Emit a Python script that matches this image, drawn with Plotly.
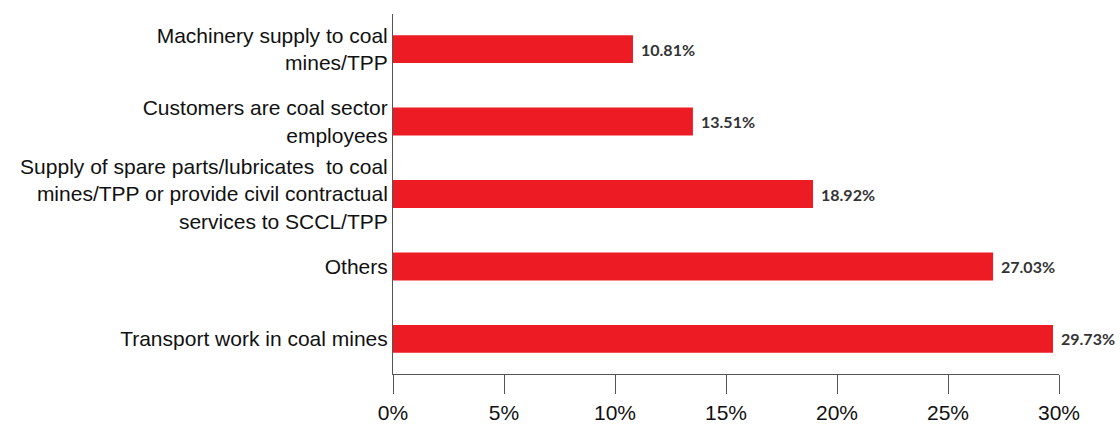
import plotly.graph_objects as go

# Sources of business linked to the coal sector (share of respondents, %)
categories = [
    "Machinery supply to coal<br>mines/TPP",
    "Customers are coal sector<br>employees",
    "Supply of spare parts/lubricates  to coal<br>mines/TPP or provide civil contractual<br>services to SCCL/TPP",
    "Others",
    "Transport work in coal mines",
]
shares = [10.81, 13.51, 18.92, 27.03, 29.73]
tick_values = [0, 5, 10, 15, 20, 25, 30]
tick_labels = ["0%", "5%", "10%", "15%", "20%", "25%", "30%"]

BAR_RED = "#ED1C24"
AXIS_GREY = "#555555"

fig = go.Figure(
    go.Bar(
        x=shares,
        y=categories,
        orientation="h",
        marker=dict(color=BAR_RED, line=dict(width=0)),
        hoverinfo="skip",
    )
)

# Value labels just past the end of each bar
for cat, val in zip(categories, shares):
    fig.add_annotation(
        x=val,
        y=cat,
        text=f"{val:.2f}%",
        showarrow=False,
        xanchor="left",
        yanchor="middle",
        xshift=6,
        font=dict(family="Lato, Open Sans, sans-serif", size=16, color="#333333", weight="bold"),
    )

fig.update_layout(
    width=1120,
    height=425,
    margin=dict(l=393, r=61, t=14, b=51),
    paper_bgcolor="white",
    plot_bgcolor="white",
    bargap=0.614,
    showlegend=False,
    font=dict(family="Liberation Sans, Arial, sans-serif", size=21, color="#111111"),
)

fig.update_xaxes(
    range=[0, 30],
    tickvals=tick_values,
    ticktext=tick_labels,
    automargin=False,
    showgrid=False,
    zeroline=False,
    showline=True,
    linecolor=AXIS_GREY,
    linewidth=1,
    ticks="outside",
    ticklen=19,
    tickcolor=AXIS_GREY,
    tickwidth=1,
    ticklabelstandoff=1,
    tickfont=dict(size=21, color="#111111"),
)

fig.update_yaxes(
    categoryorder="array",
    categoryarray=categories[::-1],
    range=[-0.485, 4.485],
    automargin=False,
    showgrid=False,
    zeroline=False,
    showline=True,
    linecolor=AXIS_GREY,
    linewidth=1,
    ticks="",
    ticklabelstandoff=0,
    tickfont=dict(size=21, color="#111111"),
)

fig.write_html("out.html")
